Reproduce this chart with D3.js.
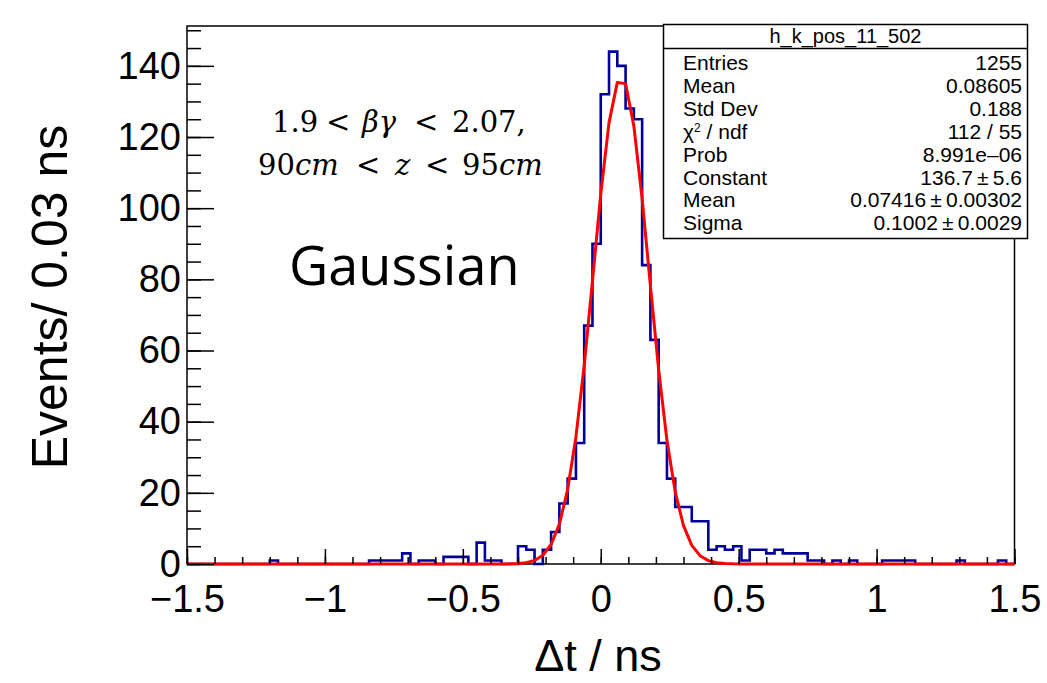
<!DOCTYPE html>
<html>
<head>
<meta charset="utf-8">
<script src="https://cdn.jsdelivr.net/npm/d3@7"></script>
<style>
  body { margin: 0; background: #fff; }
  svg { display: block; }
</style>
</head>
<body>
<svg id="chart"></svg>
<script>
// histogram: 100 bins of 0.03 ns from -1.5 to 1.5
let binStart = -1.5;
let binWidth = 0.03;
let counts = [
    0, 0, 0, 0, 0, 0, 0, 0, 0, 0,
    1, 0, 0, 0, 0, 0, 0, 0, 0, 0,
    0, 0, 1, 1, 1, 1, 3, 0, 1, 1,
    0, 2, 2, 2, 0, 6, 1, 1, 0, 0,
    5, 4, 0, 4, 9, 17, 24, 34, 67, 90,
    132, 144, 140, 128, 125, 84, 63, 34, 24, 16,
    16, 12, 12, 4, 5, 4, 5, 1, 4, 4,
    3, 4, 3, 3, 3, 1, 1, 0, 1, 0,
    1, 0, 0, 0, 1, 1, 1, 1, 0, 0,
    0, 0, 0, 1, 0, 0, 0, 0, 1, 0
];

// gaussian fit parameters (from the stats box)
let fitConstant = 136.7;
let fitMean = 0.07416;
let fitSigma = 0.1002;

// axis ticks
let xTicks = [-1.5, -1, -0.5, 0, 0.5, 1, 1.5];
let xTickLabels = ['\u22121.5', '\u22121', '\u22120.5', '0', '0.5', '1', '1.5'];
let yTicks = [0, 20, 40, 60, 80, 100, 120, 140];

// stats box
let statsTitle = 'h_k_pos_11_502';
let statsNames = ['Entries', 'Mean', 'Std Dev', 'CHI', 'Prob', 'Constant', 'Mean', 'Sigma'];
let statsValues = ['1255', '0.08605', '0.188', '112 / 55', '8.991e\u201306', '136.7\u2009\u00b1\u20095.6', '0.07416\u2009\u00b1\u20090.00302', '0.1002\u2009\u00b1\u20090.0029'];

let width = 1047;
let height = 683;
let padLeft = 187, padRight = 1014.5, padTop = 26, padBottom = 564;

let svg = d3.select('#chart').attr('width', width).attr('height', height);

let xScale = d3.scaleLinear().domain([-1.5, 1.5]).range([padLeft, padRight]);
let yScale = d3.scaleLinear().domain([0, 1.05 * d3.max(counts)]).range([padBottom, padTop]);

// frame
svg.append('rect')
    .attr('x', padLeft).attr('y', padTop)
    .attr('width', padRight - padLeft).attr('height', padBottom - padTop)
    .attr('fill', 'none').attr('stroke', '#000').attr('stroke-width', 1.5);

// histogram outline
let pts = counts.map((c, i) => [binStart + i * binWidth, c]);
pts.unshift([binStart, 0]);
pts.push([binStart + counts.length * binWidth, counts[counts.length - 1]]);
pts.push([binStart + counts.length * binWidth, 0]);
let histLine = d3.line()
    .x(d => xScale(d[0]))
    .y(d => yScale(d[1]))
    .curve(d3.curveStepAfter);
svg.append('path')
    .attr('d', histLine(pts))
    .attr('fill', 'none')
    .attr('stroke', '#000099')
    .attr('stroke-width', 2.6);

// fit curve, drawn with 100 points like ROOT does
let fitPts = d3.range(101).map(i => {
    let v = -1.5 + i * 0.03;
    return [v, fitConstant * Math.exp(-0.5 * Math.pow((v - fitMean) / fitSigma, 2))];
});
svg.append('path')
    .attr('d', d3.line().x(d => xScale(d[0])).y(d => yScale(d[1]))(fitPts))
    .attr('fill', 'none')
    .attr('stroke', '#ff0000')
    .attr('stroke-width', 3)
    .attr('stroke-linejoin', 'round');

// x axis: major and minor ticks pointing inward
let xAxis = d3.axisBottom(xScale)
    .tickValues(xTicks)
    .tickFormat((d, i) => xTickLabels[i])
    .tickSize(-15)
    .tickPadding(21);
let gx = svg.append('g').attr('transform', 'translate(0,' + padBottom + ')').call(xAxis);
gx.select('.domain').remove();
svg.append('g').attr('transform', 'translate(0,' + padBottom + ')')
    .call(d3.axisBottom(xScale).ticks(30).tickSize(-7).tickFormat(''))
    .select('.domain').remove();

// y axis
let yAxis = d3.axisLeft(yScale)
    .tickValues(yTicks)
    .tickSize(-27)
    .tickPadding(6);
let gy = svg.append('g').attr('transform', 'translate(' + padLeft + ',0)').call(yAxis);
gy.select('.domain').remove();
svg.append('g').attr('transform', 'translate(' + padLeft + ',0)')
    .call(d3.axisLeft(yScale).tickValues(d3.range(0, 151, 5)).tickSize(-14).tickFormat(''))
    .select('.domain').remove();

svg.selectAll('.tick line').attr('stroke', '#000').attr('stroke-width', 1.5);
svg.selectAll('.tick text')
    .attr('font-family', 'Liberation Sans, Arial, sans-serif')
    .attr('font-size', 38)
    .attr('fill', '#000');

// axis titles
svg.append('text')
    .attr('x', 598).attr('y', 671)
    .attr('text-anchor', 'middle')
    .attr('font-family', 'Liberation Sans, Arial, sans-serif')
    .attr('font-size', 45)
    .text('\u0394t / ns');
svg.append('text')
    .attr('transform', 'translate(67,297) rotate(-90)')
    .attr('text-anchor', 'middle')
    .attr('font-family', 'Liberation Sans, Arial, sans-serif')
    .attr('font-size', 50)
    .text('Events/ 0.03 ns');

// stats box
let bx = 663.5, by = 24.5, bw = 364, bh = 214;
svg.append('rect')
    .attr('x', bx).attr('y', by).attr('width', bw).attr('height', bh)
    .attr('fill', '#fff').attr('stroke', '#000').attr('stroke-width', 1.5);
svg.append('line')
    .attr('x1', bx).attr('x2', bx + bw).attr('y1', 48.5).attr('y2', 48.5)
    .attr('stroke', '#000').attr('stroke-width', 1.5);
svg.append('text')
    .attr('x', bx + bw / 2).attr('y', 43)
    .attr('text-anchor', 'middle')
    .attr('font-family', 'Liberation Sans, Arial, sans-serif')
    .attr('font-size', 20)
    .text(statsTitle);

statsNames.forEach((name, i) => {
    let yy = 70 + i * 22.9;
    let t = svg.append('text')
        .attr('x', 683).attr('y', yy)
        .attr('font-family', 'Liberation Sans, Arial, sans-serif')
        .attr('font-size', 21);
    if (name === 'CHI') {
        t.append('tspan').text('\u03c7');
        t.append('tspan').attr('font-size', 12).attr('dy', -7).text('2');
        t.append('tspan').attr('dy', 7).text(' / ndf');
    } else {
        t.text(name);
    }
    svg.append('text')
        .attr('x', 1022).attr('y', yy)
        .attr('text-anchor', 'end')
        .attr('font-family', 'Liberation Sans, Arial, sans-serif')
        .attr('font-size', 21)
        .text(statsValues[i]);
});

// annotations (math style)
let mathFont = 'DejaVu Serif, serif';
let line1 = svg.append('text')
    .attr('y', 132)
    .attr('font-family', mathFont)
    .attr('font-size', 29);
line1.append('tspan').attr('x', 272).text('1.9');
line1.append('tspan').attr('x', 326).text('<');
line1.append('tspan').attr('x', 362).attr('font-style', 'italic').text('\u03b2\u03b3');
line1.append('tspan').attr('x', 414).text('<');
line1.append('tspan').attr('x', 452).text('2.07,');

let line2 = svg.append('text')
    .attr('y', 175)
    .attr('font-family', mathFont)
    .attr('font-size', 29);
line2.append('tspan').attr('x', 258).text('90');
line2.append('tspan').attr('font-style', 'italic').text('cm');
line2.append('tspan').attr('x', 356).text('<');
line2.append('tspan').attr('x', 395).attr('font-style', 'italic').text('z');
line2.append('tspan').attr('x', 425).text('<');
line2.append('tspan').attr('x', 462).text('95');
line2.append('tspan').attr('font-style', 'italic').text('cm');

svg.append('text')
    .attr('x', 289).attr('y', 285)
    .attr('font-family', 'Open Sans, sans-serif')
    .attr('font-size', 54)
    .text('Gaussian');
</script>
</body>
</html>
